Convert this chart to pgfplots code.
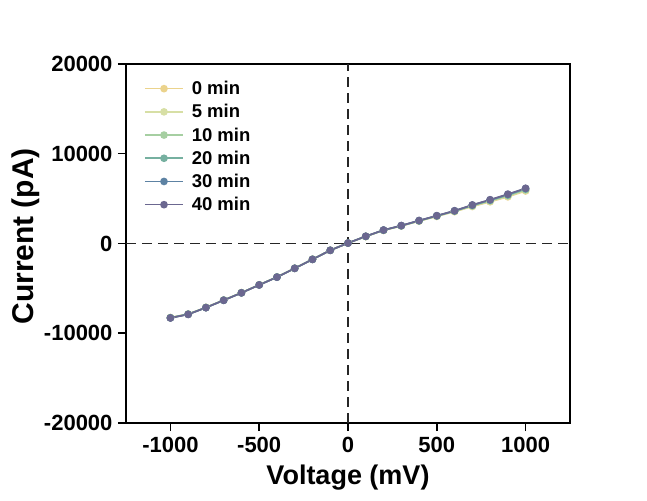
\documentclass[border=0pt]{standalone}
\usepackage{fontspec}
\setmainfont{Liberation Sans}
\usepackage{pgfplots}
\pgfplotsset{compat=1.18}
\definecolor{cA}{RGB}{235,211,140}
\definecolor{cB}{RGB}{215,223,165}
\definecolor{cC}{RGB}{166,207,162}
\definecolor{cD}{RGB}{118,176,160}
\definecolor{cE}{RGB}{93,130,163}
\definecolor{cF}{RGB}{107,103,144}
\begin{document}
\begin{tikzpicture}
\useasboundingbox (-126pt,-77pt) rectangle (521pt,423pt);
\begin{axis}[
  scale only axis, width=444pt, height=359pt,
  xmin=-1250, xmax=1250, ymin=-20000, ymax=20000,
  xtick={-1000,-500,0,500,1000},
  ytick={-20000,-10000,0,10000,20000},
  xtick pos=bottom, ytick pos=left, tick align=outside,
  major tick length=8pt,
  every tick/.style={black, line width=1.5pt},
  axis line style={line width=2pt},
  scaled ticks=false,
  /pgf/number format/assume math mode=true,
  /pgf/number format/1000 sep={},
  ticklabel style={font=\fontsize{22}{24}\selectfont\bfseries},
  xticklabel style={yshift=-3pt},
  yticklabel style={xshift=-2pt},
  xlabel={Voltage (mV)}, ylabel={Current (pA)},
  every axis x label/.style={at={(axis description cs:0.5,-0.153)}, anchor=center, font=\fontsize{27}{30}\selectfont\bfseries},
  every axis y label/.style={at={(axis description cs:-0.225,0.52)}, anchor=center, rotate=90, font=\fontsize{30}{33}\selectfont\bfseries},
  legend style={draw=none, fill=none, at={(axis description cs:0,1)}, anchor=north west,
    xshift=15pt, yshift=-14pt, font=\fontsize{18.5}{21}\selectfont\bfseries, row sep=6.3pt,
    nodes={inner sep=1pt}},
  legend cell align=left,
  legend image code/.code={\draw[mark repeat=2,mark phase=2] plot coordinates {(0pt,0pt)(19pt,0pt)(38pt,0pt)}; \path (45pt,0pt);},
  every axis plot/.append style={line width=1.6pt, mark=*, mark size=3pt},
]
\draw[black!85, line width=1.6pt, dash pattern=on 10pt off 6pt] (axis cs:-1250,0) -- (axis cs:1250,0);
\draw[black!85, line width=1.6pt, dash pattern=on 10pt off 6pt] (axis cs:0,-20000) -- (axis cs:0,20000);
\addplot[color=cA, mark options={fill=cA}] coordinates {
(-1000,-8250) (-900,-7860) (-800,-7120) (-700,-6300) (-600,-5480) (-500,-4600) (-400,-3730) (-300,-2760) (-200,-1760) (-100,-760) (0,50)
(100,780) (200,1460) (300,1950) (400,2490) (500,3020) (600,3550) (700,4120) (800,4650) (900,5200) (1000,5850)};
\addlegendentry{0 min}
\addplot[color=cB, mark options={fill=cB}] coordinates {
(-1000,-8260) (-900,-7870) (-800,-7130) (-700,-6310) (-600,-5485) (-500,-4605) (-400,-3735) (-300,-2763) (-200,-1763) (-100,-760) (0,50)
(100,785) (200,1470) (300,1960) (400,2505) (500,3035) (600,3570) (700,4160) (800,4700) (900,5260) (1000,5920)};
\addlegendentry{5 min}
\addplot[color=cC, mark options={fill=cC}] coordinates {
(-1000,-8270) (-900,-7880) (-800,-7135) (-700,-6315) (-600,-5490) (-500,-4610) (-400,-3740) (-300,-2765) (-200,-1765) (-100,-760) (0,50)
(100,790) (200,1480) (300,1970) (400,2520) (500,3055) (600,3600) (700,4200) (800,4760) (900,5330) (1000,5990)};
\addlegendentry{10 min}
\addplot[color=cD, mark options={fill=cD}] coordinates {
(-1000,-8280) (-900,-7885) (-800,-7140) (-700,-6320) (-600,-5495) (-500,-4615) (-400,-3745) (-300,-2767) (-200,-1767) (-100,-760) (0,50)
(100,795) (200,1490) (300,1980) (400,2535) (500,3075) (600,3620) (700,4240) (800,4810) (900,5400) (1000,6060)};
\addlegendentry{20 min}
\addplot[color=cE, mark options={fill=cE}] coordinates {
(-1000,-8290) (-900,-7890) (-800,-7145) (-700,-6325) (-600,-5498) (-500,-4618) (-400,-3748) (-300,-2769) (-200,-1769) (-100,-760) (0,50)
(100,800) (200,1495) (300,1990) (400,2550) (500,3090) (600,3640) (700,4280) (800,4860) (900,5470) (1000,6130)};
\addlegendentry{30 min}
\addplot[color=cF, mark options={fill=cF}] coordinates {
(-1000,-8300) (-900,-7900) (-800,-7150) (-700,-6330) (-600,-5500) (-500,-4620) (-400,-3750) (-300,-2770) (-200,-1770) (-100,-760) (0,50)
(100,805) (200,1500) (300,2000) (400,2560) (500,3100) (600,3650) (700,4300) (800,4880) (900,5500) (1000,6150)};
\addlegendentry{40 min}
\end{axis}
\end{tikzpicture}
\end{document}
